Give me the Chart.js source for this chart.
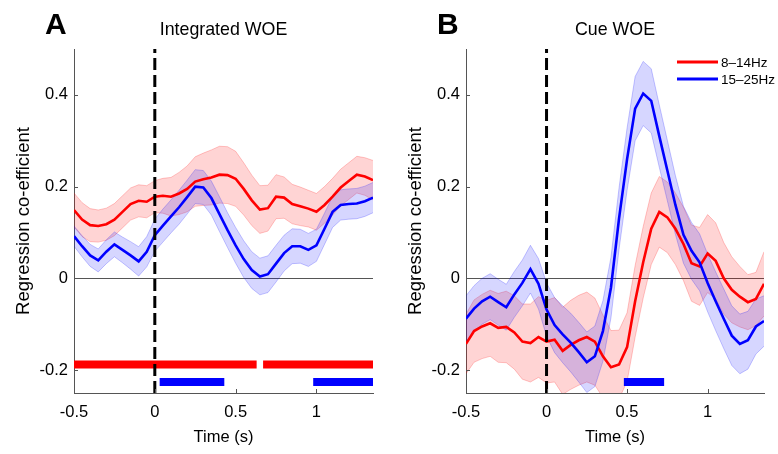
<!DOCTYPE html>
<html>
<head>
<meta charset="utf-8">
<script src="https://cdn.jsdelivr.net/npm/chart.js@4.4.0/dist/chart.umd.min.js"></script>
<style>
  body { margin: 0; background: #fff; }
  #wrap { position: relative; width: 778px; height: 454px; }
  #chartA { position: absolute; left: 0; top: 0; }
  #chartB { position: absolute; left: 392px; top: 0; }
</style>
</head>
<body>
<div id="wrap">
  <canvas id="chartA" width="392" height="454"></canvas>
  <canvas id="chartB" width="386" height="454"></canvas>
</div>
<script>
// time axis (s)
const time = [-0.5, -0.45, -0.4, -0.35, -0.3, -0.25, -0.2, -0.15, -0.1, -0.05,
  0, 0.05, 0.1, 0.15, 0.2, 0.25, 0.3, 0.35, 0.4, 0.45,
  0.5, 0.55, 0.6, 0.65, 0.7, 0.75, 0.8, 0.85, 0.9, 0.95,
  1.0, 1.05, 1.1, 1.15, 1.2, 1.25, 1.3, 1.35];

// panel A - integrated WOE
const redMeanA = [0.149, 0.128, 0.116, 0.114, 0.118, 0.128, 0.145, 0.162, 0.169, 0.167,
  0.178, 0.180, 0.178, 0.185, 0.195, 0.211, 0.216, 0.220, 0.226, 0.225,
  0.217, 0.195, 0.170, 0.150, 0.153, 0.178, 0.176, 0.162, 0.157, 0.152,
  0.145, 0.160, 0.178, 0.198, 0.212, 0.226, 0.222, 0.214];
const redSemA = [0.037, 0.037, 0.036, 0.035, 0.035, 0.035, 0.035, 0.035, 0.035, 0.035,
  0.035, 0.038, 0.042, 0.046, 0.050, 0.054, 0.057, 0.060, 0.062, 0.062,
  0.060, 0.057, 0.055, 0.052, 0.050, 0.048, 0.045, 0.043, 0.042, 0.040,
  0.040, 0.040, 0.040, 0.040, 0.040, 0.040, 0.041, 0.043];
const blueMeanA = [0.092, 0.070, 0.050, 0.039, 0.058, 0.074, 0.062, 0.050, 0.037, 0.058,
  0.094, 0.115, 0.135, 0.155, 0.177, 0.200, 0.198, 0.175, 0.140, 0.105,
  0.072, 0.042, 0.018, 0.004, 0.009, 0.032, 0.055, 0.070, 0.070, 0.062,
  0.072, 0.108, 0.145, 0.160, 0.162, 0.163, 0.168, 0.176];
const blueSemA = [0.022, 0.023, 0.024, 0.025, 0.026, 0.027, 0.028, 0.030, 0.032, 0.033,
  0.035, 0.036, 0.036, 0.037, 0.037, 0.037, 0.037, 0.037, 0.038, 0.038,
  0.039, 0.040, 0.040, 0.040, 0.040, 0.040, 0.039, 0.038, 0.037, 0.036,
  0.035, 0.034, 0.034, 0.033, 0.033, 0.033, 0.033, 0.033];

// panel B - cue WOE
const redMeanB = [-0.143, -0.115, -0.105, -0.098, -0.108, -0.106, -0.118, -0.138, -0.141, -0.128,
  -0.138, -0.134, -0.158, -0.145, -0.135, -0.128, -0.138, -0.170, -0.194, -0.188,
  -0.150, -0.050, 0.035, 0.108, 0.145, 0.133, 0.108, 0.075, 0.033, 0.026,
  0.054, 0.038, 0.000, -0.025, -0.040, -0.052, -0.045, -0.012];
const redSemB = [0.065, 0.068, 0.070, 0.072, 0.075, 0.078, 0.080, 0.082, 0.085, 0.088,
  0.090, 0.092, 0.095, 0.097, 0.098, 0.098, 0.095, 0.090, 0.080, 0.075,
  0.075, 0.078, 0.078, 0.078, 0.077, 0.077, 0.078, 0.080, 0.083, 0.085,
  0.085, 0.083, 0.078, 0.072, 0.066, 0.060, 0.058, 0.070];
const blueMeanB = [-0.088, -0.066, -0.050, -0.040, -0.052, -0.063, -0.035, -0.010, 0.020, -0.012,
  -0.068, -0.102, -0.122, -0.140, -0.161, -0.183, -0.170, -0.115, -0.020, 0.130,
  0.260, 0.370, 0.403, 0.387, 0.310, 0.235, 0.160, 0.095, 0.060, 0.035,
  -0.010, -0.050, -0.088, -0.125, -0.143, -0.135, -0.105, -0.093];
const blueSemB = [0.050, 0.050, 0.050, 0.050, 0.050, 0.050, 0.050, 0.050, 0.052, 0.055,
  0.058, 0.060, 0.062, 0.064, 0.065, 0.066, 0.066, 0.066, 0.066, 0.067,
  0.068, 0.070, 0.070, 0.070, 0.068, 0.066, 0.064, 0.062, 0.062, 0.062,
  0.063, 0.064, 0.065, 0.065, 0.065, 0.063, 0.060, 0.055];

// significance bars [start, end] in s
const sigRedA = [[-0.5, 0.63], [0.67, 1.35]];
const sigBlueA = [[0.03, 0.43], [0.98, 1.35]];
const sigRedB = [];
const sigBlueB = [[0.48, 0.73]];
const sigRedY = -0.188;
const sigBlueY = -0.226;

const xTicks = [-0.5, 0, 0.5, 1];
const yTicks = [-0.2, 0, 0.2, 0.4];
const legendLabels = ['8\u201314Hz', '15\u201325Hz'];

const FONT = '"Liberation Sans", Arial, sans-serif';
Chart.defaults.font.family = FONT;
Chart.defaults.color = '#000';

const RED = '#ff0000';
const BLUE = '#0000ff';

function lineData(mean) {
  return time.map((t, i) => ({ x: t, y: mean[i] }));
}
function bandData(mean, sem, sign) {
  return time.map((t, i) => ({ x: t, y: mean[i] + sign * sem[i] }));
}
function barData(segs, y) {
  const d = [];
  segs.forEach(s => { d.push({ x: s[0], y: y }, { x: s[1], y: y }, { x: s[1], y: null }); });
  return d;
}

// inward ticks, panel letter, title and legend
const panelDecor = {
  id: 'panelDecor',
  afterDraw(chart, args, opts) {
    const { ctx, chartArea, scales } = chart;
    ctx.save();
    ctx.strokeStyle = '#555';
    ctx.lineWidth = 1;
    scales.y.ticks.forEach(t => {
      const py = Math.round(scales.y.getPixelForValue(t.value)) + 0.5;
      ctx.beginPath();
      ctx.moveTo(chartArea.left, py);
      ctx.lineTo(chartArea.left + 4, py);
      ctx.stroke();
    });
    scales.x.ticks.forEach(t => {
      const px = Math.round(scales.x.getPixelForValue(t.value)) + 0.5;
      ctx.beginPath();
      ctx.moveTo(px, chartArea.bottom);
      ctx.lineTo(px, chartArea.bottom - 4);
      ctx.stroke();
    });

    ctx.fillStyle = '#000';
    ctx.textAlign = 'left';
    ctx.textBaseline = 'alphabetic';
    ctx.font = 'bold 30px ' + FONT;
    ctx.fillText(opts.letter, 45, 34);
    ctx.textAlign = 'center';
    ctx.font = '17.8px ' + FONT;
    ctx.fillText(opts.title, (chartArea.left + chartArea.right) / 2, 35);

    if (opts.legend) {
      const items = [[RED, 62], [BLUE, 79]];
      ctx.font = '13.5px ' + FONT;
      ctx.textAlign = 'left';
      ctx.textBaseline = 'middle';
      ctx.lineWidth = 3;
      items.forEach((it, i) => {
        ctx.strokeStyle = it[0];
        ctx.beginPath();
        ctx.moveTo(285, it[1]);
        ctx.lineTo(326, it[1]);
        ctx.stroke();
        ctx.fillText(legendLabels[i], 329, it[1] + 1);
      });
    }
    ctx.restore();
  }
};

function makePanel(id, cfg) {
  const datasets = [
    { data: bandData(cfg.redMean, cfg.redSem, 1), fill: '+1', backgroundColor: 'rgba(255,0,0,0.17)',
      borderColor: 'rgba(255,0,0,0.22)', borderWidth: 1, order: 6 },
    { data: bandData(cfg.redMean, cfg.redSem, -1), fill: false,
      borderColor: 'rgba(255,0,0,0.22)', borderWidth: 1, order: 6 },
    { data: bandData(cfg.blueMean, cfg.blueSem, 1), fill: '+1', backgroundColor: 'rgba(0,0,255,0.16)',
      borderColor: 'rgba(0,0,255,0.22)', borderWidth: 1, order: 5 },
    { data: bandData(cfg.blueMean, cfg.blueSem, -1), fill: false,
      borderColor: 'rgba(0,0,255,0.22)', borderWidth: 1, order: 5 },
    { data: barData(cfg.sigRed, sigRedY), borderColor: RED, borderWidth: 8, borderCapStyle: 'butt',
      spanGaps: false, fill: false, order: 3 },
    { data: barData(cfg.sigBlue, sigBlueY), borderColor: BLUE, borderWidth: 8, borderCapStyle: 'butt',
      spanGaps: false, fill: false, order: 3 },
    { label: legendLabels[0], data: lineData(cfg.redMean), borderColor: RED, borderWidth: 2.6, fill: false, order: 2 },
    { label: legendLabels[1], data: lineData(cfg.blueMean), borderColor: BLUE, borderWidth: 2.6, fill: false, order: 1 },
    { data: [{ x: 0, y: -0.25 }, { x: 0, y: 0.5 }], borderColor: '#000', borderWidth: 3,
      borderDash: [12, 5], borderCapStyle: 'butt', fill: false, order: 0 }
  ];

  new Chart(document.getElementById(id), {
    type: 'line',
    data: { datasets: datasets },
    options: {
      animation: false,
      responsive: false,
      devicePixelRatio: 1,
      layout: { padding: { left: 0, top: 49, right: cfg.padRight, bottom: 0 } },
      elements: { point: { radius: 0 }, line: { tension: 0 } },
      plugins: {
        legend: { display: false },
        tooltip: { enabled: false },
        panelDecor: { letter: cfg.letter, title: cfg.title, legend: cfg.legend }
      },
      scales: {
        x: {
          type: 'linear', min: -0.5, max: 1.35,
          afterBuildTicks: s => { s.ticks = xTicks.map(v => ({ value: v })); },
          afterFit: s => { s.height = 61; },
          ticks: { callback: v => String(v), padding: 10, font: { size: 16.5 }, maxRotation: 0, autoSkip: false },
          grid: { display: false, drawTicks: false },
          border: { display: true, color: '#555', width: 1 },
          title: { display: true, text: 'Time (s)', font: { size: 16.5 }, padding: { top: 0, bottom: 7 } }
        },
        y: {
          type: 'linear', min: -0.25, max: 0.5,
          afterBuildTicks: s => { s.ticks = yTicks.map(v => ({ value: v })); },
          afterFit: s => { s.width = 74; },
          ticks: { callback: v => String(v), padding: 6, font: { size: 16.5 } },
          grid: { drawTicks: false, color: c => (c.tick && c.tick.value === 0) ? '#555' : 'rgba(0,0,0,0)' },
          border: { display: true, color: '#555', width: 1 },
          title: { display: true, text: 'Regression co-efficient', font: { size: 18.5 }, padding: { top: 13, bottom: 0 } }
        }
      }
    },
    plugins: [panelDecor]
  });
}

makePanel('chartA', { letter: 'A', title: 'Integrated WOE', legend: false, padRight: 19,
  redMean: redMeanA, redSem: redSemA, blueMean: blueMeanA, blueSem: blueSemA,
  sigRed: sigRedA, sigBlue: sigBlueA });
makePanel('chartB', { letter: 'B', title: 'Cue WOE', legend: true, padRight: 14,
  redMean: redMeanB, redSem: redSemB, blueMean: blueMeanB, blueSem: blueSemB,
  sigRed: sigRedB, sigBlue: sigBlueB });
</script>
</body>
</html>
